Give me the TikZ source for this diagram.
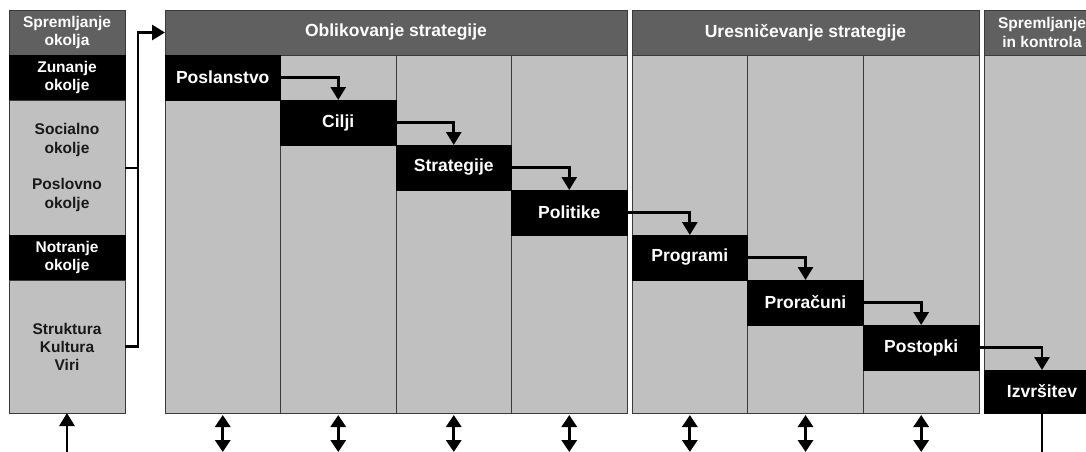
\documentclass[tikz,border=0pt]{standalone}
\usepackage{fontspec}
\setmainfont{Liberation Sans}
\usetikzlibrary{arrows.meta}
\definecolor{hdrgray}{HTML}{606060}
\definecolor{panelgray}{HTML}{C0C0C0}
\definecolor{edgegray}{HTML}{3A3A3A}
\begin{document}
\begin{tikzpicture}[x=1pt,y=-1pt,
  box/.style={draw=edgegray, line width=0.9pt, anchor=north west,
    inner sep=0pt, outer sep=0pt, align=center},
  bigfont/.style={font=\bfseries\fontsize{17.5}{19}\selectfont},
  smallfont/.style={font=\bfseries\fontsize{15.5}{18.5}\selectfont},
  hdr/.style={box, fill=hdrgray, text=white, bigfont, minimum height=45pt},
  col/.style={box, fill=panelgray, minimum width=115.5pt, minimum height=358pt},
  blk/.style={box, draw=black, fill=black, text=white, bigfont,
    minimum width=115.5pt, minimum height=45pt},
  lbl/.style={inner sep=0pt, align=center, smallfont, text=black!90},
  flow/.style={line width=2.8pt, -{Triangle[width=15pt,length=13pt]}},
  feed/.style={line width=2.8pt},
  tick/.style={line width=2pt},
  both/.style={line width=3pt,
    {Triangle[width=15pt,length=12pt]}-{Triangle[width=15pt,length=12pt]},
    shorten <=2pt}
]
\useasboundingbox (0,0) rectangle (1086,452);
\clip (0,0) rectangle (1086,452);

% ---- environment scanning panel ----
\node[hdr, smallfont, minimum width=116pt] (envhdr) at (9,10) {Spremljanje\\okolja};
\node[blk, smallfont, minimum width=116pt] (zun) at (9,55) {Zunanje\\okolje};
\node[col, minimum width=116pt, minimum height=135pt] (mid) at (9,100) {};
\node[lbl] (soc) at (67,140) {Socialno\\okolje};
\node[lbl] (posl) at (67,195) {Poslovno\\okolje};
\node[blk, smallfont, minimum width=116pt] (notr) at (9,235) {Notranje\\okolje};
\node[col, minimum width=116pt, minimum height=133pt, text=black!90,
  font=\bfseries\fontsize{15.5}{18}\selectfont] (res) at (9,280) {Struktura\\Kultura\\Viri};

% ---- strategy formulation ----
\node[hdr, minimum width=462pt] (hdrO) at (165,10) {Oblikovanje strategije};
\node[col] (c1) at (165,55) {};
\node[col] (c2) at (280.5,55) {};
\node[col] (c3) at (396,55) {};
\node[col] (c4) at (511.5,55) {};
\node[blk] (b1) at (165,55) {Poslanstvo};
\node[blk] (b2) at (280.5,100) {Cilji};
\node[blk] (b3) at (396,145) {Strategije};
\node[blk] (b4) at (511.5,190) {Politike};

% ---- strategy implementation ----
\node[hdr, minimum width=347pt] (hdrU) at (632,10) {Uresničevanje strategije};
\node[col, minimum width=115.67pt] (c5) at (632,55) {};
\node[col, minimum width=115.67pt] (c6) at (747.67,55) {};
\node[col, minimum width=115.67pt] (c7) at (863.33,55) {};
\node[blk, minimum width=115.67pt] (b5) at (632,235) {Programi};
\node[blk, minimum width=115.67pt] (b6) at (747.67,280) {Proračuni};
\node[blk, minimum width=115.67pt] (b7) at (863.33,325) {Postopki};

% ---- evaluation and control ----
\node[hdr, smallfont, minimum width=116pt] (hdrK) at (984,10) {Spremljanje\\in kontrola};
\node[col, minimum width=116pt, minimum height=315pt] (c8) at (984,55) {};
\node[blk, minimum width=116pt, minimum height=43pt] (b8) at (984,370) {Izvršitev};

% ---- step connectors ----
\draw[flow] (b1.east) -| (b2.north);
\draw[flow] (b2.east) -| (b3.north);
\draw[flow] (b3.east) -| (b4.north);
\draw[flow] (b4.east) -| (b5.north);
\draw[flow] (b5.east) -| (b6.north);
\draw[flow] (b6.east) -| (b7.north);
\draw[flow] (b7.east) -| (b8.north);

% ---- feedback bus into formulation ----
\coordinate (bus) at (138,0);
\draw[flow] (res.east) -- (res.east -| bus) |- (hdrO.west);
\draw[tick] (mid.east) -- (mid.east -| bus);

% ---- bottom links ----
\coordinate (base) at (0,452);
\draw[flow] (res.south |- base) -- (res.south);
\foreach \c in {c1,c2,c3,c4,c5,c6,c7}
  \draw[both] (\c.south) -- (\c.south |- base);
\draw[feed] (b8.south) -- (b8.south |- base);
\end{tikzpicture}
\end{document}
